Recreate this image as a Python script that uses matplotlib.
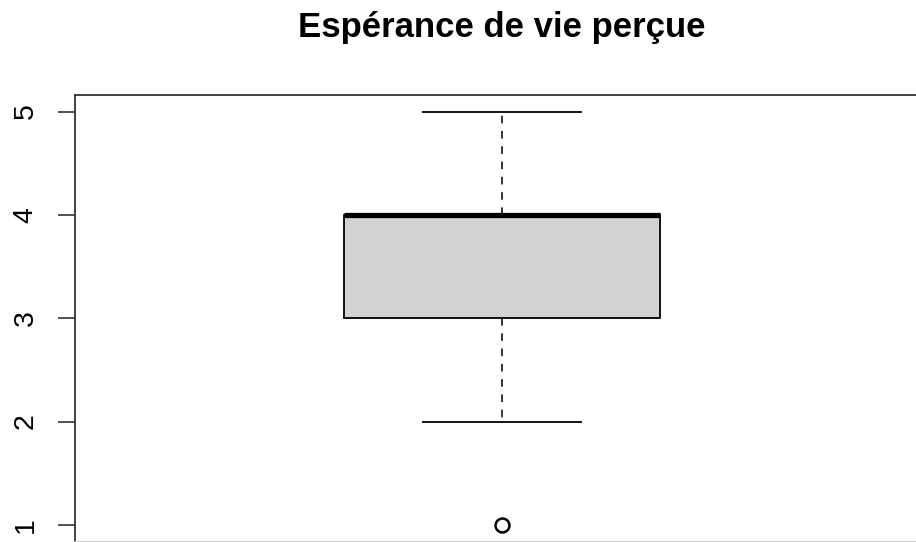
import numpy as np
import matplotlib.pyplot as plt

# summary stats
med = 4
q1 = 3
q3 = 4
whislo = 2
whishi = 5
outliers = [1]
yticks = [1, 2, 3, 4, 5]
title = "Espérance de vie perçue"

plt.rcParams['font.family'] = ['Liberation Sans', 'DejaVu Sans']

fig = plt.figure(figsize=(9.16, 5.42), dpi=100)
# axes runs a little past the right edge, like the cropped original
ax = fig.add_axes([75 / 916, 0.5 / 542, 854 / 916, 446.5 / 542])

stats = [dict(med=med, q1=q1, q3=q3, whislo=whislo, whishi=whishi, fliers=outliers)]
ax.bxp(stats, positions=[1], widths=0.371, capwidths=0.186, patch_artist=True,
       boxprops=dict(facecolor='#d3d3d3', edgecolor='black', linewidth=1.3),
       medianprops=dict(color='black', linewidth=3.8, solid_capstyle='butt'),
       whiskerprops=dict(color='black', linewidth=1.1, linestyle=(0, (5, 5))),
       capprops=dict(color='black', linewidth=1.3),
       flierprops=dict(marker='o', markerfacecolor='none', markeredgecolor='black',
                       markersize=10, markeredgewidth=1.8))

ax.set_xlim(0.5, 1.5)
ax.set_ylim(0.84, 5.16)
ax.set_xticks([])
ax.set_yticks(yticks)
ax.set_yticklabels([str(t) for t in yticks], rotation=90, va='center')
ax.tick_params(axis='y', length=12.2, width=1.2, pad=14, labelsize=20.5,
               colors='#333333', labelcolor='black')
for s in ax.spines.values():
    s.set_color('#333333')
    s.set_linewidth(1.3)
# bottom edge is cut off in the original, only a faint line shows
ax.spines['bottom'].set_color('#c8c8c8')

fig.text(502 / 916, 1 - 37 / 542, title, ha='center', va='baseline',
         fontsize=25, fontweight='bold')

fig.savefig('out.png', dpi=100)
